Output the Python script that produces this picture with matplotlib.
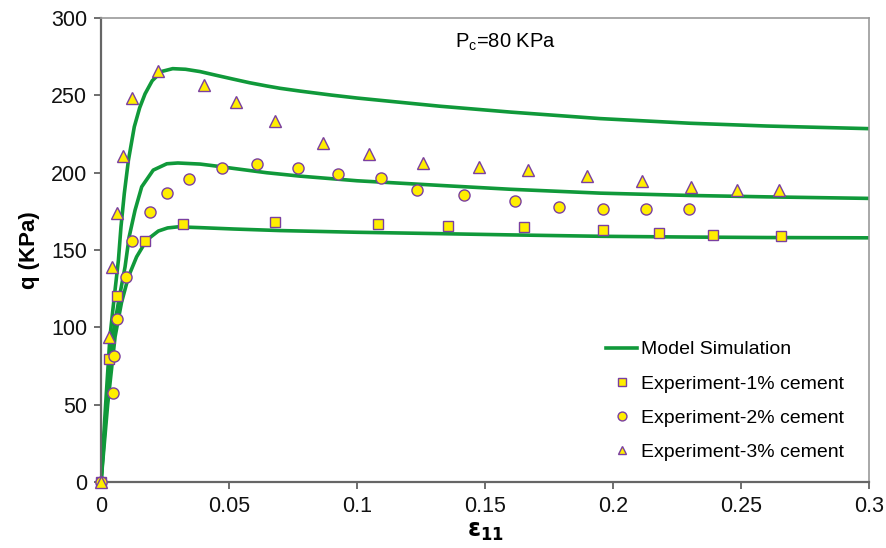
import numpy as np
import matplotlib
matplotlib.use("Agg")
import matplotlib.pyplot as plt
from matplotlib.ticker import FuncFormatter, MultipleLocator

plt.rcParams['font.family'] = ['Liberation Sans', 'DejaVu Sans']

# model simulation curves
model1_x = [0, 0.0026, 0.0055, 0.0080, 0.0107, 0.0139, 0.0178, 0.0224, 0.0260, 0.0300,
            0.0387, 0.0520, 0.0699, 0.1, 0.1324, 0.16, 0.195, 0.23, 0.26, 0.3]
model1_y = [0, 50, 94, 116, 132.7, 145.6, 156.4, 162.3, 164.3, 165,
            164.5, 163.6, 162.6, 161.5, 160.6, 159.8, 158.9, 158.4, 158.1, 157.9]

model2_x = [0, 0.0022, 0.0045, 0.0070, 0.0094, 0.011, 0.0133, 0.0159, 0.0204, 0.0257,
            0.0300, 0.0387, 0.0450, 0.0517, 0.0647, 0.0777, 0.1, 0.1324, 0.16, 0.195,
            0.23, 0.26, 0.3]
model2_y = [0, 50, 94, 118, 139.2, 158.6, 175.8, 190.9, 201.7, 205.8,
            206.3, 205.6, 204.3, 202.8, 200, 197.8, 194.8, 191.8, 189.3, 186.8,
            185.3, 184.4, 183.4]

model3_x = [0, 0.0018, 0.0035, 0.0052, 0.0068, 0.0078, 0.0091, 0.0107, 0.013, 0.0151,
            0.0172, 0.0200, 0.0237, 0.0280, 0.0330, 0.0387, 0.0450, 0.0517, 0.0580, 0.0647,
            0.0699, 0.0777, 0.09, 0.1, 0.1324, 0.16, 0.195, 0.23, 0.26, 0.3]
model3_y = [0, 50, 94, 120, 143.5, 165, 186.6, 208, 229.7, 242,
            251, 259.5, 265.5, 267.3, 266.9, 265.4, 263, 260.5, 258.2, 256.1,
            254.6, 252.8, 250.2, 248.3, 243, 239.2, 235, 232, 230.2, 228.5]

# experiments
exp1_x = [0, 0.0032, 0.0061, 0.0172, 0.0322, 0.0681, 0.1082, 0.1355, 0.1652, 0.196,
          0.2178, 0.2392, 0.2655]
exp1_y = [0, 79.5, 120, 155.8, 166.8, 168.3, 166.8, 165.5, 165, 162.9, 160.8, 159.5, 159]

exp2_x = [0, 0.0046, 0.0052, 0.0064, 0.0096, 0.0122, 0.019, 0.0258, 0.0342, 0.0471,
          0.0609, 0.0771, 0.0926, 0.1093, 0.1233, 0.1419, 0.1618, 0.1788, 0.196, 0.2129, 0.2298]
exp2_y = [0, 57.7, 81.4, 105.4, 132.7, 155.8, 174.5, 187, 196, 203.2,
          205.4, 203.2, 199.5, 196.3, 189, 185.3, 181.4, 178, 176.3, 176.3, 176.3]

exp3_x = [0, 0.0032, 0.0044, 0.0061, 0.0087, 0.0122, 0.0223, 0.0404, 0.0527, 0.0681,
          0.0866, 0.1048, 0.1259, 0.1475, 0.1668, 0.1897, 0.2111, 0.2306, 0.2483, 0.2647]
exp3_y = [0, 93.5, 139, 173.7, 211, 248, 266, 257, 246, 233.6,
          219, 211.8, 206.4, 203.4, 201.7, 198, 194.6, 190.9, 188.8, 188.8]

green = '#10993a'
fill = '#ffee00'
edge = '#7a3fa0'

fig = plt.figure(figsize=(8.86, 5.48), dpi=100)
ax = fig.add_axes([0.114, 0.1204, 0.867, 0.8466])

ax.plot(model1_x, model1_y, color=green, lw=2.6, label='Model Simulation', zorder=2)
ax.plot(model2_x, model2_y, color=green, lw=2.6, zorder=2)
ax.plot(model3_x, model3_y, color=green, lw=2.6, zorder=2)

ax.plot(exp1_x, exp1_y, 's', ms=7, mfc=fill, mec=edge, mew=1.0, ls='none',
        label='Experiment-1% cement', zorder=3, clip_on=False)
ax.plot(exp2_x, exp2_y, 'o', ms=8, mfc=fill, mec=edge, mew=1.0, ls='none',
        label='Experiment-2% cement', zorder=3, clip_on=False)
ax.plot(exp3_x, exp3_y, '^', ms=8, mfc=fill, mec=edge, mew=1.0, ls='none',
        label='Experiment-3% cement', zorder=3, clip_on=False)

ax.set_xlim(0, 0.3)
ax.set_ylim(0, 300)
ax.xaxis.set_major_locator(MultipleLocator(0.05))
ax.yaxis.set_major_locator(MultipleLocator(50))
ax.xaxis.set_major_formatter(FuncFormatter(lambda v, p: '%g' % round(v, 2)))
ax.tick_params(direction='out', length=5, width=1.2, colors='#555555',
               labelcolor='#111111', labelsize=15.5)
ax.tick_params(axis='x', pad=5)
ax.tick_params(axis='y', pad=5)
ax.tick_params(top=False, right=False)

for s in ['left', 'bottom']:
    ax.spines[s].set_color('#666666')
    ax.spines[s].set_linewidth(1.6)
for s in ['top', 'right']:
    ax.spines[s].set_color('#999999')
    ax.spines[s].set_linewidth(1.2)

ax.set_xlabel(r'$\mathbf{\epsilon}_{\mathbf{11}}$', fontsize=17, fontweight='bold', labelpad=2)
ax.set_ylabel('q (KPa)', fontsize=16, fontweight='bold', labelpad=8)

ax.text(0.158, 284, r'P$_\mathregular{c}$=80 KPa', fontsize=14.5, ha='center', va='center')

leg = ax.legend(loc='upper left', bbox_to_anchor=(0.635, 0.342), frameon=False,
                fontsize=14, labelspacing=0.85, handlelength=1.6, handletextpad=0.2,
                markerscale=0.8)

fig.savefig('out.png', dpi=100)
